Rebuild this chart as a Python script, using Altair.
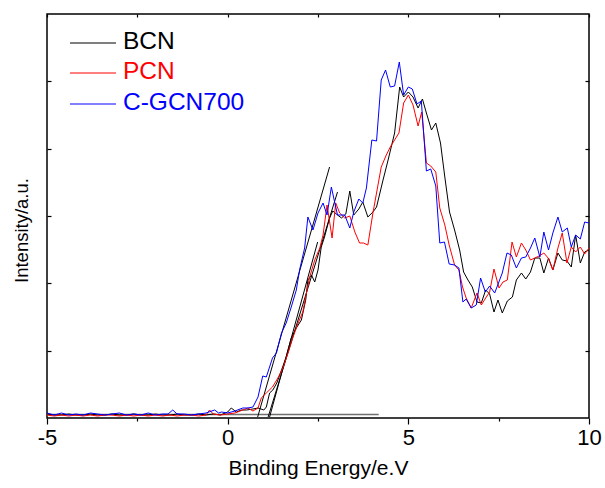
import altair as alt
import pandas as pd

# ---------------- data ----------------
series_names = ["BCN", "PCN", "C-GCN700"]
series_colors = ["#000000", "#ff0000", "#0000ff"]

bcn_x = [-5.0, -4.8, -4.6, -4.4, -4.2, -4.0, -3.8, -3.6, -3.4, -3.2, -3.0, -2.8, -2.6,
         -2.4, -2.2, -2.0, -1.8, -1.6, -1.4, -1.2, -1.0, -0.8, -0.6, -0.4, -0.2,
         0.0, 0.10, 0.24, 0.38, 0.52, 0.70, 0.84, 1.0, 1.07,
         1.16, 1.25, 1.36, 1.49, 1.62, 1.76, 1.90, 2.04,
         2.16, 2.22, 2.32, 2.41, 2.50, 2.59, 2.68, 2.82,
         2.91, 3.04, 3.15, 3.27, 3.38, 3.49, 3.63, 3.74,
         3.88, 4.02, 4.12, 4.30, 4.44, 4.62, 4.76, 4.87,
         5.00, 5.13, 5.27, 5.39, 5.50, 5.64, 5.76, 5.89,
         6.01, 6.14, 6.28, 6.42, 6.53, 6.65, 6.77, 6.90,
         7.02, 7.14, 7.25, 7.37, 7.48, 7.60, 7.74, 7.88,
         7.99, 8.13, 8.25, 8.38, 8.50, 8.64, 8.75, 8.88,
         9.00, 9.14, 9.26, 9.39, 9.51, 9.63, 9.76, 9.88, 10.0]
bcn_y = [4, 3, 3, 4, 3, 3, 4, 3, 3, 4, 3, 3, 4, 3, 3, 4, 3, 3, 4, 3, 3, 4, 3, 4, 3,
         6, 10, 6, 8, 8, 9, 10, 8, 11,
         25, 28, 35, 48, 61, 80, 90, 98,
         118, 138, 143, 136, 148, 171, 181, 200,
         207, 203, 200, 204, 227, 203, 209, 216,
         201, 206, 211, 238, 258, 285, 331, 321,
         326, 321, 310, 319, 305, 288, 295, 275,
         241, 206, 188, 168, 146, 138, 131, 116,
         115, 128, 124, 106, 118, 105, 117, 121,
         138, 145, 139, 146, 160, 160, 145, 160,
         148, 165, 158, 157, 151, 183, 155, 166, 168]

pcn_x = [-5.0, -4.8, -4.6, -4.4, -4.2, -4.0, -3.8, -3.6, -3.4, -3.2, -3.0, -2.8, -2.6,
         -2.4, -2.2, -2.0, -1.8, -1.6, -1.4, -1.2, -1.0, -0.8, -0.6,
         -0.5, -0.4, -0.2, 0.0, 0.2, 0.42, 0.56, 0.70, 0.84, 0.93,
         1.07, 1.24, 1.39, 1.53, 1.67, 1.81, 1.95, 2.08, 2.18, 2.27,
         2.41, 2.55, 2.64, 2.75, 2.89, 2.99, 3.10, 3.24, 3.38, 3.52,
         3.65, 3.76, 3.88, 4.02, 4.25, 4.39, 4.50, 4.62, 4.74, 4.87,
         5.00, 5.13, 5.27, 5.37, 5.50, 5.62, 5.76, 5.87, 6.01, 6.13,
         6.28, 6.40, 6.50, 6.60, 6.74, 6.90, 7.02, 7.14, 7.25, 7.37,
         7.51, 7.62, 7.74, 7.87, 7.99, 8.13, 8.25, 8.38, 8.50, 8.62,
         8.75, 8.87, 9.00, 9.14, 9.26, 9.39, 9.51, 9.63, 9.76, 9.88, 10.0]
pcn_y = [3, 2, 3, 2, 3, 2, 3, 2, 3, 3, 2, 3, 2, 3, 2, 3, 2, 3, 2, 3, 3, 2, 3,
         8, 4, 3, 4, 5, 8, 10, 7, 10, 20,
         25, 31, 40, 50, 65, 81, 95, 106, 125, 141,
         158, 170, 183, 213, 180, 215, 205, 200, 202, 186,
         175, 175, 173, 205, 251, 263, 271, 278, 285, 315,
         323, 313, 292, 306, 255, 252, 246, 210, 193, 173,
         153, 148, 131, 120, 110, 125, 113, 120, 126, 149,
         130, 136, 138, 176, 161, 175, 168, 158, 160, 162,
         165, 160, 148, 170, 185, 155, 171, 166, 171, 164, 170]

cgcn_x = [-5.0, -4.8, -4.6, -4.4, -4.2, -4.0, -3.8, -3.6, -3.4, -3.2, -3.0, -2.8, -2.6,
          -2.4, -2.2, -2.0, -1.8,
          -1.65, -1.52, -1.4, -1.2, -1.0, -0.8, -0.6, -0.36, -0.25, -0.17,
          0.0, 0.2, 0.42, 0.56, 0.70, 0.84, 0.97, 1.07, 1.24, 1.35,
          1.49, 1.62, 1.76, 1.90, 1.99, 2.13, 2.22, 2.36, 2.50, 2.64,
          2.75, 2.87, 2.96, 3.04, 3.24, 3.38, 3.49, 3.63, 3.74, 3.84,
          3.99, 4.12, 4.25, 4.37, 4.50, 4.62, 4.75, 4.87, 5.00, 5.11,
          5.24, 5.36, 5.50, 5.62, 5.76, 5.87, 6.00, 6.13, 6.28, 6.40,
          6.51, 6.60, 6.74, 6.88, 7.00, 7.13, 7.25, 7.39, 7.60, 7.73,
          7.85, 7.99, 8.13, 8.25, 8.38, 8.50, 8.64, 8.75, 8.88, 9.00,
          9.14, 9.26, 9.40, 9.51, 9.63, 9.76, 9.88, 10.0]
cgcn_y = [5, 3, 5, 3, 4, 3, 5, 4, 3, 4, 5, 3, 4, 3, 5, 3, 4,
          4, 8, 4, 4, 3, 4, 5, 8, 5, 6,
          5, 7, 10, 10, 11, 21, 42, 41, 60, 65,
          85, 95, 111, 128, 148, 170, 201, 188, 205, 215,
          203, 231, 216, 203, 203, 190, 206, 219, 215, 230,
          278, 277, 338, 348, 331, 332, 356, 323, 331, 329,
          314, 317, 247, 249, 232, 175, 176, 154, 153, 150,
          116, 119, 110, 113, 140, 126, 132, 125, 145, 165,
          163, 150, 160, 161, 170, 180, 161, 186, 168, 185,
          201, 186, 190, 171, 183, 179, 196, 195]

# linear-extrapolation (onset) lines
tan_x0 = [0.83, 1.12, 1.16]
tan_y0 = [1, 1, 1]
tan_x1 = [2.82, 3.04, 2.49]
tan_y1 = [251, 226, 176]

# horizontal baseline
base_x0 = [-5.0]
base_x1 = [4.18]
base_y = [3.5]

x_ticks = [-5, -2.5, 0, 2.5, 5, 7.5, 10]
y_ticks = [67.33, 134.67, 202, 269.33, 336.67]

# ---------------- build tables ----------------
rows = []
for name, xs, ys in [("BCN", bcn_x, bcn_y), ("PCN", pcn_x, pcn_y), ("C-GCN700", cgcn_x, cgcn_y)]:
    assert len(xs) == len(ys), name
    for i, (xv, yv) in enumerate(zip(xs, ys)):
        rows.append({"series": name, "E": xv, "I": yv, "idx": i})
df = pd.DataFrame(rows)
tan_df = pd.DataFrame({"x0": tan_x0, "y0": tan_y0, "x1": tan_x1, "y1": tan_y1})
base_df = pd.DataFrame({"x0": base_x0, "x1": base_x1, "y": base_y})

W, H = 542, 404
FONT = "Liberation Sans"
xscale = alt.Scale(domain=[-5, 10], nice=False, zero=False)
yscale = alt.Scale(domain=[0, 404], nice=False, zero=False)

x_main_axis = alt.Axis(
    orient="bottom",
    values=x_ticks,
    labelExpr="datum.value % 5 === 0 ? '' + datum.value : ''",
    tickSize={"condition": {"test": "datum.value % 5 === 0", "value": 6}, "value": 3},
    title="Binding Energy/e.V", domain=False, grid=False,
    labelFont=FONT, labelFontSize=22, labelColor="black", labelOverlap=False,
    labelFlush=False, labelPadding=3,
    titleFont=FONT, titleFontSize=21, titleFontWeight="normal", titleColor="black",
    titlePadding=9, tickColor="black", tickWidth=1.2,
)
x_top_axis = alt.Axis(
    orient="bottom", offset=-H, values=x_ticks, tickSize=3, labels=False, title="",
    domain=False, grid=False, tickColor="black", tickWidth=1.2,
)
y_title_axis = alt.Axis(
    orient="left",
    title="Intensity/a.u.", labels=False, ticks=False, domain=False, grid=False,
    titleFont=FONT, titleFontSize=18.5, titleFontWeight="normal", titleColor="black",
    titlePadding=16, titleY=216,
)
y_left_in_axis = alt.Axis(
    orient="right", offset=-W, values=y_ticks, tickSize=4, labels=False, title="",
    domain=False, grid=False, tickColor="black", tickWidth=1.2,
)
y_right_in_axis = alt.Axis(
    orient="left", offset=-W, values=y_ticks, tickSize=4, labels=False, title="",
    domain=False, grid=False, tickColor="black", tickWidth=1.2,
)

lines = alt.Chart(df).mark_line(strokeWidth=1, clip=True).encode(
    x=alt.X("E:Q", scale=xscale, axis=x_main_axis),
    y=alt.Y("I:Q", scale=yscale, axis=y_title_axis),
    color=alt.Color("series:N", scale=alt.Scale(domain=series_names, range=series_colors), legend=None),
    order="idx:Q",
)

tangents = alt.Chart(tan_df).mark_rule(color="black", strokeWidth=1, clip=True).encode(
    x=alt.X("x0:Q", scale=xscale, axis=x_top_axis),
    x2="x1:Q",
    y=alt.Y("y0:Q", scale=yscale, axis=y_left_in_axis),
    y2="y1:Q",
)

baseline = alt.Chart(base_df).mark_rule(color="#707070", strokeWidth=1.5, clip=True).encode(
    x=alt.X("x0:Q", scale=xscale, axis=None),
    x2="x1:Q",
    y=alt.Y("y:Q", scale=yscale, axis=y_right_in_axis),
)

legend_layers = []
leg_line_y = [29, 59, 90]
leg_text_y = [28, 58, 89]
for i, (name, col) in enumerate(zip(series_names, series_colors)):
    one = pd.DataFrame({"series": [name]})
    legend_layers.append(
        alt.Chart(one).mark_rule(color=col, strokeWidth=1).encode(
            x=alt.value(23), x2=alt.value(69), y=alt.value(leg_line_y[i])
        )
    )
    legend_layers.append(
        alt.Chart(one).mark_text(
            align="left", baseline="middle", font=FONT, fontSize=24.5, color=col
        ).encode(x=alt.value(76), y=alt.value(leg_text_y[i]), text="series:N")
    )

chart = alt.layer(baseline, tangents, lines, *legend_layers).resolve_axis(
    x="independent", y="independent"
).properties(
    width=W, height=H,
    autosize=alt.AutoSizeParams(type="none"),
    padding={"left": 47, "top": 14, "right": 16, "bottom": 70},
    background="white",
).configure_view(stroke="black", strokeWidth=1.5)

chart.save("out.html", embed_options={"renderer": "svg", "actions": False})
